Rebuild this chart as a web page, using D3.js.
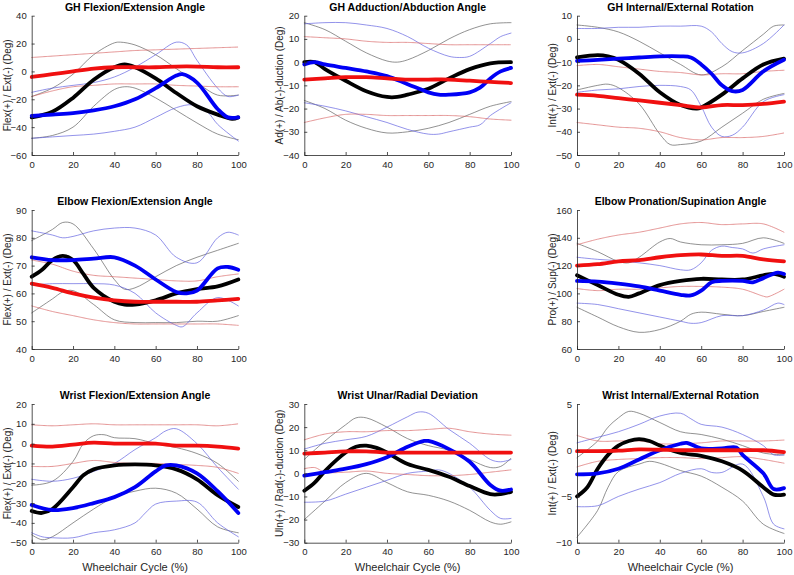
<!DOCTYPE html>
<html><head><meta charset="utf-8">
<script src="https://cdn.jsdelivr.net/npm/d3@7"></script>
<style>body{margin:0;background:#fff}svg{display:block;font-family:Arial,"Liberation Sans",sans-serif}</style>
</head><body><svg id="c" width="794" height="575"></svg>
<script>
// ---- Data: each series is [cycle %, degrees] pairs ----
const titles = ["GH Flexion/Extension Angle","GH Adduction/Abduction Angle","GH Internal/External Rotation",
  "Elbow Flexion/Extension Angle","Elbow Pronation/Supination Angle",
  "Wrist Flexion/Extension Angle","Wrist Ulnar/Radial Deviation","Wrist Internal/External Rotation"];
const yLabels = ["Flex(+) / Ext(-) (Deg)","Ad(+) / Ab(-)-duction (Deg)","Int(+) / Ext(-) (Deg)",
  "Flex(+) / Ext(-) (Deg)","Pro(+) / Sup(-) (Deg)",
  "Flex(+) / Ext(-) (Deg)","Uln(+) / Rad(-)-duction (Deg)","Int(+) / Ext(-) (Deg)"];
const yDomains = [[-60,40],[-40,20],[-50,10],[40,90],[60,160],[-50,20],[-30,30],[-10,5]];
const yTicks = [[-60,-40,-20,0,20,40],[-40,-30,-20,-10,0,10,20],[-50,-40,-30,-20,-10,0,10],
  [40,50,60,70,80,90],[60,80,100,120,140,160],[-50,-40,-30,-20,-10,0,10,20],[-30,-20,-10,0,10,20,30],[-10,-5,0,5]];
const xTicks = [0,20,40,60,80,100];

// Panel 1: GH Flexion/Extension
const p1BlackMean=[[0,-33],[10,-29],[20,-19],[30,-6],[40,3],[45,5],[50,3],[60,-5],[70,-15.5],[80,-25],[90,-31],[97,-34],[100,-33]];
const p1BlackUp=[[0,-18],[10,-12],[20,-2],[30,12],[40,20.5],[43,21],[50,19],[60,12],[70,2],[80,-8],[90,-17],[100,-17]];
const p1BlackLo=[[0,-48],[10,-46],[20,-40],[30,-25],[40,-13],[45,-11],[50,-12],[60,-19],[70,-28],[80,-37],[90,-45],[100,-49]];
const p1BlueMean=[[0,-32],[10,-31],[20,-30],[30,-28],[40,-25],[50,-20],[60,-12],[70,-3],[73,-2],[80,-8],[90,-27],[95,-33],[100,-33]];
const p1BlueUp=[[0,-15],[10,-12],[20,-10],[30,-8],[40,-4],[50,3],[60,12],[70,21],[75,19],[80,8],[90,-12],[95,-18],[100,-17]];
const p1BlueLo=[[0,-48],[10,-47],[20,-46],[30,-45],[40,-43],[50,-40],[60,-33],[70,-26],[78,-24],[85,-29],[90,-38],[100,-50]];
const p1RedMean=[[0,-4],[10,-2],[20,0],[30,2],[40,3],[50,3],[60,3],[70,3.5],[80,3.5],[90,3],[100,3]];
const p1RedUp=[[0,10],[10,11],[20,12],[30,13],[40,14],[50,15],[60,15.5],[70,16],[80,16.5],[90,17],[100,17.5]];
const p1RedLo=[[0,-18],[10,-14],[20,-11],[30,-10],[40,-9],[50,-9],[60,-9],[70,-10],[80,-10.5],[90,-11],[100,-11]];

// Panel 2: GH Adduction/Abduction
const p2BlackMean=[[0,0],[5,0],[10,-3],[20,-8],[30,-12.5],[40,-15],[45,-15],[50,-14],[60,-11.5],[70,-7],[80,-3],[90,-0.5],[100,0]];
const p2BlackUp=[[0,17],[10,14],[20,9],[30,4],[40,0.5],[45,0],[50,1],[60,5],[70,10],[80,14],[90,16.5],[100,17]];
const p2BlackLo=[[0,-16.5],[10,-20],[20,-25],[30,-28.5],[40,-30.5],[50,-30],[60,-28.5],[70,-26],[80,-22.5],[90,-19],[100,-17]];
const p2BlueMean=[[0,-1],[5,0],[10,-1],[20,-2.5],[30,-4],[40,-6],[50,-9.5],[60,-13],[65,-14],[70,-14],[80,-13],[85,-11],[90,-7],[95,-4],[100,-2.5]];
const p2BlueUp=[[0,16.5],[10,17],[20,17],[30,16],[40,14.5],[50,11],[60,6],[70,2.5],[75,2],[80,2.5],[90,8],[95,11],[100,12.5]];
const p2BlueLo=[[0,-17.5],[10,-19],[20,-21],[30,-23.5],[40,-26],[50,-29],[60,-31],[65,-31],[70,-30],[80,-28],[85,-27],[90,-23],[100,-17.5]];
const p2RedMean=[[0,-7.5],[10,-7],[20,-6.5],[30,-6.5],[40,-7],[50,-7.5],[60,-7.5],[70,-7.5],[80,-8],[90,-8.5],[100,-9]];
const p2RedUp=[[0,11],[10,10.5],[20,10],[30,9],[40,8.5],[50,8.5],[60,8],[70,7.5],[80,7.5],[90,7.5],[100,7.5]];
const p2RedLo=[[0,-26],[10,-24],[20,-22.5],[30,-22.5],[40,-23],[50,-23],[60,-23],[70,-23],[80,-23.5],[90,-24.5],[100,-25]];

// Panel 3: GH Internal/External Rotation
const p3BlackMean=[[0,-8],[10,-7],[15,-7.5],[20,-9],[30,-15],[40,-23],[50,-28.5],[58,-30],[60,-29.5],[70,-24],[80,-17],[90,-11],[100,-8.5]];
const p3BlackUp=[[0,6],[10,5],[20,3],[30,-1],[40,-6],[50,-11],[60,-15.5],[70,-12],[80,-5],[90,2],[95,5.5],[100,6]];
const p3BlackLo=[[0,-22],[10,-20],[15,-19.5],[20,-21],[30,-28],[40,-41],[45,-45.5],[50,-45.5],[60,-44],[70,-38],[80,-32],[90,-26],[100,-23.5]];
const p3BlueMean=[[0,-9.5],[10,-9],[20,-8.5],[30,-8],[40,-7.5],[50,-7.5],[55,-8],[60,-11],[65,-15],[70,-20],[75,-22.5],[80,-22],[90,-14],[100,-9]];
const p3BlueUp=[[0,4.5],[10,4.5],[20,5],[30,5],[40,5.5],[50,5.5],[60,5.5],[65,3],[70,-2],[75,-5.5],[80,-6],[90,-2],[100,6]];
const p3BlueLo=[[0,-23],[10,-22],[20,-21.5],[30,-20.5],[40,-20],[50,-20.5],[55,-22],[60,-29],[65,-38],[70,-42],[75,-41.5],[80,-38],[90,-27],[100,-24]];
const p3RedMean=[[0,-24],[10,-24.5],[20,-25.5],[30,-26.5],[40,-27.5],[50,-28.5],[60,-29.5],[70,-28.5],[80,-28.5],[90,-28],[100,-27]];
const p3RedUp=[[0,-11.5],[10,-11],[20,-12],[30,-13],[40,-14],[50,-14.5],[60,-15.5],[70,-15],[80,-15],[90,-14],[100,-13.5]];
const p3RedLo=[[0,-36],[10,-37],[20,-38],[30,-38.5],[40,-40],[50,-42.5],[60,-43.5],[70,-42.5],[80,-42.5],[90,-42],[100,-40.5]];

// Panel 4: Elbow Flexion/Extension
const p4BlackMean=[[0,66],[5,68.5],[10,72],[15,73.5],[20,72],[25,67],[30,62],[40,57],[45,56],[50,56],[60,57.5],[70,60],[80,61.5],[90,62.5],[100,65]];
const p4BlackUp=[[0,79],[10,83],[15,85.5],[20,85],[30,76],[40,65],[45,61.5],[50,62],[60,66],[70,70],[80,73],[90,75.5],[100,78]];
const p4BlackLo=[[0,53],[10,58],[15,60.5],[20,61],[30,56],[40,50.5],[50,49.5],[60,49.5],[70,49.5],[80,50],[90,50],[100,52]];
const p4BlueMean=[[0,73],[10,72],[20,72],[30,72.5],[40,73],[50,70],[60,65],[70,60.5],[75,60],[80,61],[90,69],[95,69.5],[100,68.5]];
const p4BlueUp=[[0,82.5],[10,81],[15,80],[20,80.5],[30,82.5],[40,83.5],[50,83.5],[60,81],[70,73],[80,71],[90,80],[95,82],[100,81]];
const p4BlueLo=[[0,63],[10,63.5],[20,63.5],[30,63.5],[40,63],[50,60],[60,53],[70,48.5],[73,48],[80,53],[90,58.5],[100,55.5]];
const p4RedMean=[[0,63.5],[10,62],[20,60],[30,58.5],[40,57.5],[50,57],[60,57],[70,57],[80,57],[90,57.5],[100,58]];
const p4RedUp=[[0,72],[10,70.5],[20,68],[30,66.5],[40,66],[50,65.5],[60,65],[70,64.5],[80,64.5],[90,66],[100,67]];
const p4RedLo=[[0,55.5],[10,53.5],[20,52],[30,50.5],[40,49.5],[50,49],[60,49],[70,49],[80,49],[90,49],[100,48.5]];

// Panel 5: Elbow Pronation/Supination
const p5BlackMean=[[0,113],[10,106],[20,99],[25,97.5],[30,100],[40,106],[50,109],[60,110.5],[70,110],[80,110],[90,113],[95,114],[100,112]];
const p5BlackUp=[[0,136],[10,130],[20,123],[25,122],[30,126],[40,137],[45,139.5],[50,137],[60,135],[70,135],[80,136],[90,140],[100,136]];
const p5BlackLo=[[0,90],[10,83],[20,76],[30,72],[40,74],[50,80],[55,85],[60,86.5],[70,85],[80,84],[90,87],[100,90]];
const p5BlueMean=[[0,109],[10,108.5],[20,107],[30,105],[40,102],[50,99],[55,98.5],[60,102],[65,108],[70,109],[80,109],[85,108],[90,111],[97,115],[100,114]];
const p5BlueUp=[[0,126],[10,124.5],[20,123.5],[30,122],[40,120],[50,117],[55,117],[60,122],[65,131],[70,134],[75,133],[80,132],[85,129],[90,132],[100,135]];
const p5BlueLo=[[0,93],[10,92],[20,89],[30,86],[40,83],[50,80],[55,78.5],[60,79],[70,84],[80,84],[90,88],[97,93],[100,92]];
const p5RedMean=[[0,120],[10,121],[20,123],[30,124],[40,126],[50,127.5],[60,128],[70,127],[80,127],[90,124.5],[100,123]];
const p5RedUp=[[0,135],[10,139],[20,142],[30,144],[40,147],[50,150],[60,151],[70,149.5],[80,150],[90,150],[100,144]];
const p5RedLo=[[0,103.5],[10,102],[20,103],[30,103],[40,104],[50,105],[60,105],[70,104.5],[80,103],[90,98],[92,97.5],[100,103]];

// Panel 6: Wrist Flexion/Extension
const p6BlackMean=[[0,-34],[5,-35],[10,-33],[20,-22],[25,-16],[30,-13],[40,-11],[50,-10.5],[60,-11],[70,-13],[80,-18],[90,-26],[100,-32]];
const p6BlackUp=[[0,-21],[10,-19],[20,-9],[25,0],[30,4],[35,4.5],[40,3],[50,2.5],[60,0],[70,-2],[80,-5],[90,-10],[100,-19]];
const p6BlackLo=[[0,-46],[5,-48.5],[10,-47],[20,-40],[30,-33],[40,-27],[50,-24],[60,-22.5],[70,-25],[80,-33],[90,-42],[100,-45]];
const p6BlueMean=[[0,-31],[10,-33.5],[20,-32.5],[30,-30],[40,-27],[50,-22],[60,-14],[65,-11],[70,-11],[80,-15],[90,-24],[100,-35]];
const p6BlueUp=[[0,-18],[10,-19],[20,-17.5],[30,-14],[40,-10],[50,-3],[60,3],[65,6.5],[70,7.5],[80,0],[90,-12],[100,-23]];
const p6BlueLo=[[0,-45],[5,-47],[10,-47.5],[20,-47.5],[30,-45],[40,-43.5],[50,-40],[55,-35],[60,-30.5],[70,-29],[80,-29.5],[90,-40],[100,-47]];
const p6RedMean=[[0,-1],[10,-1.5],[20,-0.5],[30,0.5],[40,0],[50,0],[60,0],[70,-1],[80,-1],[90,-1.5],[100,-2.5]];
const p6RedUp=[[0,9.5],[10,9],[20,9.5],[30,10],[40,9.5],[50,9.5],[60,9.5],[70,9.5],[80,9.5],[90,9],[100,10]];
const p6RedLo=[[0,-11.5],[10,-11.5],[20,-10],[30,-8.5],[40,-9.5],[50,-10],[60,-10],[70,-10.5],[80,-11],[90,-12],[100,-15]];

// Panel 7: Wrist Ulnar/Radial Deviation
const p7BlackMean=[[0,-7.5],[5,-4],[10,1],[20,9],[25,11.5],[30,12],[35,11],[40,9],[50,4],[60,1.5],[70,-1.5],[80,-5.5],[90,-9],[95,-9],[100,-8]];
const p7BlackUp=[[0,6],[10,14],[20,21],[25,24],[30,24],[40,20],[50,15],[60,12],[70,10],[80,6],[90,2.5],[95,3],[100,6.5]];
const p7BlackLo=[[0,-20],[10,-12],[20,-4],[30,0],[40,-4],[50,-8],[60,-9.5],[70,-12],[80,-16],[90,-21],[95,-22],[100,-21]];
const p7BlueMean=[[0,-1],[10,0.5],[20,2],[30,4],[40,7],[50,11.5],[58,14],[60,14],[70,10.5],[80,5],[90,-5],[95,-7.5],[100,-7]];
const p7BlueUp=[[0,10.5],[10,13],[20,14.5],[30,16],[40,20],[50,24.5],[55,26.5],[60,26],[70,19],[80,13],[90,6],[95,5],[100,6]];
const p7BlueLo=[[0,-12.5],[10,-12],[20,-9],[30,-6],[40,-3],[50,0],[60,1],[65,1.5],[70,0],[80,-6],[90,-16],[95,-19.5],[100,-19.5]];
const p7RedMean=[[0,8.5],[10,9],[20,9.5],[30,9.5],[40,9],[50,9],[60,9],[70,9],[80,9],[90,9],[100,9]];
const p7RedUp=[[0,14.5],[10,17],[20,18],[30,18],[40,18.5],[50,18.5],[60,19],[70,19.5],[80,18],[90,17],[100,16.5]];
const p7RedLo=[[0,2],[5,2.5],[10,0.5],[20,0.5],[30,1],[40,0],[50,-0.5],[60,-1],[70,-1],[80,-0.5],[90,0.5],[100,1.5]];

// Panel 8: Wrist Internal/External Rotation
const p8BlackMean=[[0,-5],[5,-4],[10,-2],[15,-0.5],[20,0.5],[25,1],[30,1.2],[35,1],[40,0.5],[50,-0.3],[60,-0.6],[70,-1.2],[80,-2.2],[90,-4],[95,-4.8],[100,-4.8]];
const p8BlackUp=[[0,-0.8],[10,1],[15,2.5],[20,3.5],[25,4.2],[30,4],[40,3],[50,2],[60,1.7],[70,1.2],[80,0.5],[90,-0.3],[100,-0.5]];
const p8BlackLo=[[0,-9.4],[10,-6.5],[15,-4],[20,-2.3],[30,-1.5],[35,-1.2],[40,-1.4],[50,-2.2],[60,-2.8],[70,-4],[80,-5.5],[90,-8],[100,-9]];
const p8BlueMean=[[0,-2.6],[10,-2.5],[20,-2],[30,-1],[40,0],[50,0.7],[53,0.8],[60,0.2],[70,0.2],[77,0.3],[80,-0.5],[90,-2.5],[95,-4.2],[100,-4.1]];
const p8BlueUp=[[0,0.8],[10,1.4],[20,2],[30,2.8],[40,3.7],[50,4],[55,3.4],[60,2.8],[70,2.5],[80,1.7],[90,0.5],[95,-0.5],[100,-0.5]];
const p8BlueLo=[[0,-6.1],[10,-6],[20,-5],[30,-4.2],[40,-3.5],[50,-2.5],[60,-2],[65,-2.4],[70,-2.4],[80,-1.5],[90,-5],[95,-8],[100,-8.5]];
const p8RedMean=[[0,-0.1],[10,-0.1],[20,-0.05],[30,0.1],[40,0.05],[50,0],[60,0],[70,0],[80,0],[90,0],[100,-0.2]];
const p8RedUp=[[0,1.6],[10,1],[20,1],[30,1],[40,0.7],[50,0.7],[60,0.8],[70,1],[80,1],[90,1],[100,1.1]];
const p8RedLo=[[0,-1.8],[10,-1.2],[20,-1],[30,-0.9],[40,-0.8],[50,-0.8],[60,-0.9],[70,-0.8],[80,-0.7],[90,-1],[100,-1.4]];

const panelSeries = [
  [p1BlackUp,p1BlackLo,p1BlueUp,p1BlueLo,p1RedUp,p1RedLo,p1BlackMean,p1BlueMean,p1RedMean],
  [p2BlackUp,p2BlackLo,p2BlueUp,p2BlueLo,p2RedUp,p2RedLo,p2BlackMean,p2BlueMean,p2RedMean],
  [p3BlackUp,p3BlackLo,p3BlueUp,p3BlueLo,p3RedUp,p3RedLo,p3BlackMean,p3BlueMean,p3RedMean],
  [p4BlackUp,p4BlackLo,p4BlueUp,p4BlueLo,p4RedUp,p4RedLo,p4BlackMean,p4BlueMean,p4RedMean],
  [p5BlackUp,p5BlackLo,p5BlueUp,p5BlueLo,p5RedUp,p5RedLo,p5BlackMean,p5BlueMean,p5RedMean],
  [p6BlackUp,p6BlackLo,p6BlueUp,p6BlueLo,p6RedUp,p6RedLo,p6BlackMean,p6BlueMean,p6RedMean],
  [p7BlackUp,p7BlackLo,p7BlueUp,p7BlueLo,p7RedUp,p7RedLo,p7BlackMean,p7BlueMean,p7RedMean],
  [p8BlackUp,p8BlackLo,p8BlueUp,p8BlueLo,p8RedUp,p8RedLo,p8BlackMean,p8BlueMean,p8RedMean]
];

// ---- Layout & styles ----
const colX = [[31.7,238.3],[304.3,511],[577,784]];
const rowY = [[15.7,155],[210,349],[404,542.7]];
const panelPos = [[0,0],[0,1],[0,2],[1,0],[1,2],[2,0],[2,1],[2,2]]; // [row,col]
const styles = [
  {c:"#5a5a5a",w:0.7,o:0.95},{c:"#5a5a5a",w:0.7,o:0.95},
  {c:"#5c5ce0",w:0.7,o:0.95},{c:"#5c5ce0",w:0.7,o:0.95},
  {c:"#d96a6a",w:0.8,o:0.9,d:"1.5,0.8"},{c:"#d96a6a",w:0.8,o:0.9,d:"1.5,0.8"},
  {c:"#000000",w:3.8,o:1},{c:"#0000f5",w:3.8,o:1},{c:"#f01010",w:3.8,o:1}
];
const axisCol = "#262626";
const svg = d3.select("#c");

panelSeries.forEach((series,i)=>{
  const [r,c] = panelPos[i];
  const x = d3.scaleLinear().domain([0,100]).range(colX[c]);
  const y = d3.scaleLinear().domain(yDomains[i]).range([rowY[r][1],rowY[r][0]]);
  const g = svg.append("g");
  const line = d3.line().x(d=>x(d[0])).y(d=>y(d[1])).curve(d3.curveCatmullRom.alpha(0.5));
  series.forEach((s,k)=>{
    const st = styles[k];
    g.append("path").attr("d",line(s)).attr("fill","none").attr("stroke",st.c)
      .attr("stroke-width",st.w).attr("stroke-opacity",st.o)
      .attr("stroke-linejoin","round").attr("stroke-linecap","round")
      .attr("stroke-dasharray",st.d||null);
  });
  // axes (ticks pointing inward)
  const xa = g.append("g").attr("transform",`translate(0,${rowY[r][1]})`)
    .call(d3.axisBottom(x).tickValues(xTicks).tickSizeInner(-3).tickSizeOuter(0).tickPadding(6));
  const ya = g.append("g").attr("transform",`translate(${colX[c][0]},0)`)
    .call(d3.axisLeft(y).tickValues(yTicks[i]).tickSizeInner(-3).tickSizeOuter(0).tickPadding(5));
  [xa,ya].forEach(a=>{
    a.selectAll("path,line").attr("stroke",axisCol).attr("stroke-width",0.8);
    a.selectAll("text").attr("fill",axisCol).style("font-size","9.5px").style("font-family","Arial, 'Liberation Sans', sans-serif");
  });
  // title
  g.append("text").attr("x",(colX[c][0]+colX[c][1])/2).attr("y",rowY[r][0]-4.7)
    .attr("text-anchor","middle").style("font-weight","bold").style("font-size","10.5px").attr("fill","#000")
    .text(titles[i]);
  // y label
  const yl = colX[c][0]-24.5;
  g.append("text").attr("transform",`translate(${yl},${(rowY[r][0]+rowY[r][1])/2}) rotate(-90)`)
    .attr("text-anchor","middle").attr("dy","0.35em").style("font-size","10px").attr("fill",axisCol)
    .text(yLabels[i]);
  if (r===2) {
    g.append("text").attr("x",(colX[c][0]+colX[c][1])/2).attr("y",570.5)
      .attr("text-anchor","middle").style("font-size","11px").attr("fill",axisCol)
      .text("Wheelchair Cycle (%)");
  }
});
</script></body></html>
